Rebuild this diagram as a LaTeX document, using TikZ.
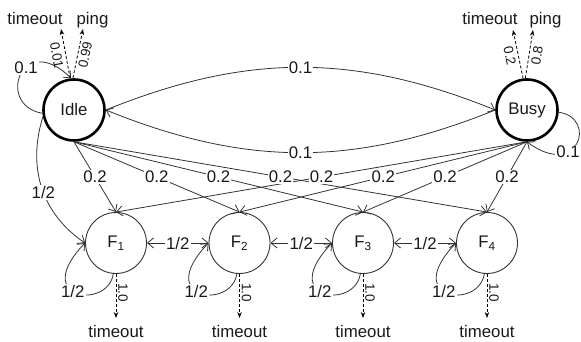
\documentclass[tikz,border=0pt]{standalone}
\usepackage{fontspec}
\setmainfont{Liberation Sans}
\usetikzlibrary{arrows.meta}
\begin{document}
\begin{tikzpicture}[x=1pt,y=1pt,
  every node/.style={font=\fontsize{16.8}{19}\selectfont, text=black!90},
  bigstate/.style={circle, draw=black, line width=2.6pt, minimum size=61pt, inner sep=0pt},
  fstate/.style={circle, draw=black!80, line width=0.9pt, minimum size=61pt, inner sep=0pt},
  barb/.tip={Straight Barb[length=6pt,width=10pt]},
  edgeln/.style={draw=black!80, line width=0.8pt, -barb},
  biedge/.style={draw=black!80, line width=0.8pt, barb-barb},
  dashto/.style={draw=black, line width=0.8pt, dash pattern=on 3pt off 2pt, -{Stealth[length=6pt,width=4.5pt]}},
  prob/.style={fill=white, inner sep=1.2pt},
  smallprob/.style={font=\fontsize{13.5}{15}\selectfont, inner sep=0.8pt},
  outcome/.style={anchor=base, inner sep=0pt},
]
\useasboundingbox (0,0) rectangle (581,342);

% states
\node[bigstate] (Idle) at (74,232) {Idle};
\node[bigstate] (Busy) at (527,232) {Busy};
\node[fstate] (F1) at (116,99) {F\textsubscript{1}};
\node[fstate] (F2) at (239.5,99) {F\textsubscript{2}};
\node[fstate] (F3) at (363,99) {F\textsubscript{3}};
\node[fstate] (F4) at (487,99) {F\textsubscript{4}};

% emitted symbols
\node[outcome] (itm) at (35,317) {timeout};
\node[outcome] (ipg) at (92.5,317) {ping};
\node[outcome] (btm) at (490,317) {timeout};
\node[outcome] (bpg) at (545.5,317) {ping};
\coordinate (itA) at (61,313);
\coordinate (ipA) at (83,313);
\coordinate (btA) at (513,312);
\coordinate (bpA) at (533,312);
\coordinate (tipline) at (0,24);
\foreach \i/\x in {1/116,2/239.5,3/363,4/487}{
  \node[outcome] (to\i) at (\x,4) {timeout};
  \coordinate (fe\i) at (F\i.south |- tipline);
}

% Idle <-> Busy
\draw[edgeln] (Idle.east) to[out=22,in=158] (Busy.west);
\draw[edgeln] (Busy.west) to[out=202,in=-22] (Idle.east);

% self loops of Idle and Busy
\draw[edgeln] (Idle.186) .. controls (-5,237) and (22,312) .. (Idle.95);
\draw[edgeln] (Busy.-4) .. controls (598,224) and (578,162) .. (Busy.south);

% Idle -> F1
\draw[edgeln] (Idle.192) .. controls (25,167) and (48,124) .. (F1.west);

% Idle, Busy -> F_i
\foreach \i in {1,...,4}{
  \draw[edgeln] (Idle.south) -- (F\i.north);
  \draw[edgeln] (Busy.south) -- (F\i.north);
}

% F_i self loops and neighbours
\foreach \i/\x in {1/116,2/239.5,3/363,4/487}{
  \draw[edgeln] (F\i.-95) .. controls ({\x-8},32) and ({\x-86},42) .. node[prob,pos=0.55]{1/2} (F\i.west);
}
\foreach \i/\j in {1/2,2/3,3/4}{
  \draw[biedge] (F\i.east) -- node[prob]{1/2} (F\j.west);
}

% emissions
\draw[dashto] (Idle.97) -- node[smallprob, sloped, below=3pt]{0.01} (itA);
\draw[dashto] (Idle.92) -- node[smallprob, sloped, below=1.5pt]{0.99} (ipA);
\draw[dashto] (Busy.97) -- node[smallprob, sloped, below=2.5pt]{0.2} (btA);
\draw[dashto] (Busy.93) -- node[smallprob, sloped, below=2pt]{0.8} (bpA);
\foreach \i in {1,...,4}{
  \draw[dashto] (F\i.south) -- node[smallprob, sloped, above=1pt, pos=0.42]{1.0} (fe\i);
}

% transition labels on top of all lines
\path (Idle.east) to[out=22,in=158] node[prob]{0.1} (Busy.west);
\path (Busy.west) to[out=202,in=-22] node[prob]{0.1} (Idle.east);
\path (Idle.186) .. controls (-5,237) and (22,312) .. node[prob,pos=0.6]{0.1} (Idle.95);
\path (Busy.-4) .. controls (598,224) and (578,162) .. node[prob,pos=0.65]{0.1} (Busy.south);
\path (Idle.192) .. controls (25,167) and (48,124) .. node[prob]{1/2} (F1.west);
\foreach \i in {1,...,4}{
  \path (Idle.south) -- node[prob]{0.2} (F\i.north);
  \path (Busy.south) -- node[prob]{0.2} (F\i.north);
}
\end{tikzpicture}
\end{document}
